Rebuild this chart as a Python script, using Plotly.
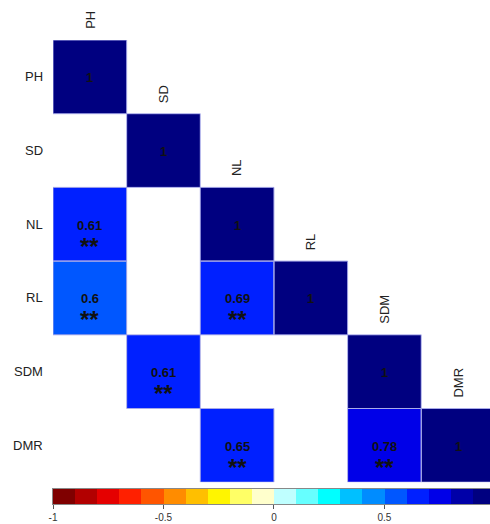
import plotly.graph_objects as go

variables = ["PH", "SD", "NL", "RL", "SDM", "DMR"]
# lower-triangle correlations (None = not significant / blank)
corr = [
    [1,     None,  None,  None,  None,  None],
    [None,  1,     None,  None,  None,  None],
    [0.61,  None,  1,     None,  None,  None],
    [0.598, None,  0.69,  1,     None,  None],
    [None,  0.61,  None,  None,  1,     None],
    [None,  None,  0.65,  None,  0.78,  1],
]
stars = [
    ["",   "",   "",   "",   "",   ""],
    ["",   "",   "",   "",   "",   ""],
    ["**", "",   "",   "",   "",   ""],
    ["**", "",   "**", "",   "",   ""],
    ["",   "**", "",   "",   "",   ""],
    ["",   "",   "**", "",   "**", ""],
]
bin_colors = [
    "#7F0000", "#B20000", "#E50000", "#FF2000", "#FF5500",
    "#FF8C00", "#FFBF00", "#FFF500", "#FFFF66", "#FFFFCC",
    "#BFFFFF", "#66FFFF", "#00FFFF", "#00C0FF", "#008CFF",
    "#0057FF", "#0020FF", "#0000E8", "#0000A8", "#000080",
]
cbar_ticks = [-1, -0.5, 0, 0.5]
cbar_ticklabels = ["-1", "-0.5", "0", "0.5"]

n_bins = len(bin_colors)
colorscale = []
for i, c in enumerate(bin_colors):
    colorscale.append([i / n_bins, c])
    colorscale.append([(i + 1) / n_bins, c])

n = len(variables)
W, H = 490, 524
cell = 73.7
ml, mt, mb = 52.7, 40, 20
plot_h = H - mt - mb
heat_bottom = mt + n * cell
cb_top, cb_bot = 489, 504

fig = go.Figure()
fig.add_trace(go.Heatmap(
    z=corr, x=list(range(n)), y=list(range(n)),
    colorscale=colorscale, zmin=-1, zmax=1, showscale=False,
    hoverongaps=False, xaxis="x", yaxis="y",
))

# colour legend drawn as a heatmap strip on its own axis
edges = [-1 + 0.1 * i for i in range(n_bins + 1)]
mids = [(edges[i] + edges[i + 1]) / 2 for i in range(n_bins)]
fig.add_trace(go.Heatmap(
    z=[mids], x=edges, y=[0, 1],
    colorscale=colorscale, zmin=-1, zmax=1, showscale=False,
    xaxis="x2", yaxis="y2",
))

FONT = "Liberation Sans, Arial"
shapes = []
annotations = []
for r in range(n):
    for c in range(n):
        v = corr[r][c]
        if v is None:
            continue
        shapes.append(dict(type="rect", xref="x", yref="y",
                           x0=c - 0.5, x1=c + 0.5, y0=r - 0.5, y1=r + 0.5,
                           line=dict(color="#A8AAE8", width=1), layer="above"))
        label = "1" if v == 1 else f"{round(v, 2):g}"
        annotations.append(dict(x=c, y=r, xref="x", yref="y", text=f"<b>{label}</b>",
                                showarrow=False, yshift=-1,
                                font=dict(size=13, color="#111", family=FONT)))
        if stars[r][c]:
            annotations.append(dict(x=c, y=r, xref="x", yref="y", text=f"<b>{stars[r][c]}</b>",
                                    showarrow=False, yshift=-22,
                                    font=dict(size=24, color="#111", family=FONT)))

for i, name in enumerate(variables):
    annotations.append(dict(x=-0.5, y=i, xref="x", yref="y", text=name,
                            showarrow=False, xanchor="right", xshift=-8,
                            font=dict(size=13, color="#222", family=FONT)))
    annotations.append(dict(x=i, y=i - 0.5, xref="x", yref="y", text=name,
                            showarrow=False, textangle=-90, yanchor="bottom", yshift=9,
                            font=dict(size=13, color="#222", family=FONT)))

x_max = -0.5 + (W - ml) / cell
cb_max = -1 + 2 * (W - ml) / (n * cell)

fig.update_layout(
    width=W, height=H,
    margin=dict(l=ml, r=0, t=mt, b=mb),
    paper_bgcolor="white", plot_bgcolor="white",
    showlegend=False,
    xaxis=dict(range=[-0.5, x_max], showgrid=False, zeroline=False,
               showticklabels=False, ticks="", domain=[0, 1], anchor="y"),
    yaxis=dict(range=[n - 0.5, -0.5], showgrid=False, zeroline=False,
               showticklabels=False, ticks="",
               domain=[(H - mb - heat_bottom) / plot_h, 1], anchor="x"),
    xaxis2=dict(range=[-1, cb_max], showgrid=False, zeroline=False,
                tickvals=cbar_ticks, ticktext=cbar_ticklabels,
                ticks="outside", ticklen=4, tickcolor="#555", tickwidth=1,
                tickfont=dict(size=10, color="#333", family=FONT),
                showline=True, linecolor="#888", linewidth=1, mirror=True,
                domain=[0, 1], anchor="y2"),
    yaxis2=dict(range=[0, 1], showgrid=False, zeroline=False,
                showticklabels=False, ticks="",
                showline=True, linecolor="#888", linewidth=1,
                domain=[0, (H - mb - cb_top) / plot_h], anchor="x2"),
    shapes=shapes,
    annotations=annotations,
)

fig.write_html("out.html", config={"displayModeBar": False},
               post_script="document.body.style.margin='0';document.body.style.overflow='hidden';")
